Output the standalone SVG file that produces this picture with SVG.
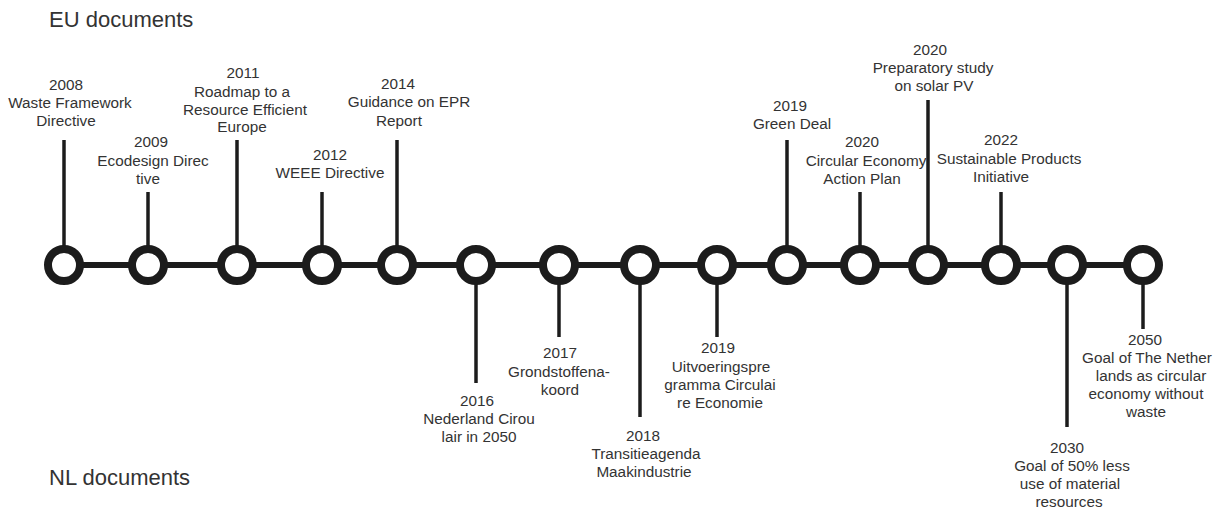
<svg xmlns="http://www.w3.org/2000/svg" width="1223" height="508" viewBox="0 0 1223 508">
<style>
.t{font-family:"Liberation Sans",Arial,sans-serif;font-size:15.3px;fill:#333;text-anchor:middle}
.h{font-family:"Liberation Sans",Arial,sans-serif;font-size:22px;fill:#333}
.stem{stroke:#1c1c1c;stroke-width:3.5}
.axis{stroke:#1c1c1c;stroke-width:6}
.node{fill:#fff;stroke:#1c1c1c;stroke-width:8}
</style>
<rect width="1223" height="508" fill="#fff"/>
<text class="h" x="49" y="27">EU documents</text>
<text class="h" x="49" y="485">NL documents</text>
<g id="connectors">
<line class="axis" x1="64" y1="265" x2="1143" y2="265"/>
<line class="stem" x1="64" y1="140" x2="64" y2="265"/>
<line class="stem" x1="148" y1="192" x2="148" y2="265"/>
<line class="stem" x1="237" y1="140" x2="237" y2="265"/>
<line class="stem" x1="322" y1="192" x2="322" y2="265"/>
<line class="stem" x1="397" y1="140" x2="397" y2="265"/>
<line class="stem" x1="476" y1="265" x2="476" y2="383"/>
<line class="stem" x1="559" y1="265" x2="559" y2="337"/>
<line class="stem" x1="640" y1="265" x2="640" y2="417"/>
<line class="stem" x1="717" y1="265" x2="717" y2="337"/>
<line class="stem" x1="787" y1="140" x2="787" y2="265"/>
<line class="stem" x1="860" y1="192" x2="860" y2="265"/>
<line class="stem" x1="928" y1="100" x2="928" y2="265"/>
<line class="stem" x1="1001" y1="192" x2="1001" y2="265"/>
<line class="stem" x1="1067" y1="265" x2="1067" y2="427"/>
<line class="stem" x1="1143" y1="265" x2="1143" y2="329"/>
</g>
<g id="n2008"><circle class="node" cx="64" cy="265" r="16"/>
<text class="t" x="66" y="90">2008</text><text class="t" x="70" y="108">Waste Framework</text><text class="t" x="66" y="126">Directive</text></g>
<g id="n2009"><circle class="node" cx="148" cy="265" r="16"/>
<text class="t" x="151" y="147">2009</text><text class="t" x="153" y="166">Ecodesign Direc</text><text class="t" x="148" y="184">tive</text></g>
<g id="n2011"><circle class="node" cx="237" cy="265" r="16"/>
<text class="t" x="243" y="78">2011</text><text class="t" x="242" y="97">Roadmap to a</text><text class="t" x="245" y="115">Resource Efficient</text><text class="t" x="242" y="132">Europe</text></g>
<g id="n2012"><circle class="node" cx="322" cy="265" r="16"/>
<text class="t" x="330" y="160">2012</text><text class="t" x="330" y="178">WEEE Directive</text></g>
<g id="n2014"><circle class="node" cx="397" cy="265" r="16"/>
<text class="t" x="398" y="89">2014</text><text class="t" x="409" y="107">Guidance on EPR</text><text class="t" x="399" y="126">Report</text></g>
<g id="n2016"><circle class="node" cx="476" cy="265" r="16"/>
<text class="t" x="477" y="406">2016</text><text class="t" x="479" y="424">Nederland Cirou</text><text class="t" x="479" y="442">lair in 2050</text></g>
<g id="n2017"><circle class="node" cx="559" cy="265" r="16"/>
<text class="t" x="560" y="358">2017</text><text class="t" x="559" y="377">Grondstoffena-</text><text class="t" x="560" y="395">koord</text></g>
<g id="n2018"><circle class="node" cx="640" cy="265" r="16"/>
<text class="t" x="643" y="441">2018</text><text class="t" x="646" y="459">Transitieagenda</text><text class="t" x="644" y="477">Maakindustrie</text></g>
<g id="n2019u"><circle class="node" cx="717" cy="265" r="16"/>
<text class="t" x="718" y="353">2019</text><text class="t" x="721" y="372">Uitvoeringspre</text><text class="t" x="720" y="390">gramma Circulai</text><text class="t" x="720" y="408">re Economie</text></g>
<g id="n2019g"><circle class="node" cx="787" cy="265" r="16"/>
<text class="t" x="790" y="111">2019</text><text class="t" x="792" y="129">Green Deal</text></g>
<g id="n2020c"><circle class="node" cx="860" cy="265" r="16"/>
<text class="t" x="862" y="147">2020</text><text class="t" x="866" y="166">Circular Economy</text><text class="t" x="862" y="184">Action Plan</text></g>
<g id="n2020p"><circle class="node" cx="928" cy="265" r="16"/>
<text class="t" x="930" y="55">2020</text><text class="t" x="933" y="73">Preparatory study</text><text class="t" x="934" y="91">on solar PV</text></g>
<g id="n2022"><circle class="node" cx="1001" cy="265" r="16"/>
<text class="t" x="1001" y="145">2022</text><text class="t" x="1009" y="164">Sustainable Products</text><text class="t" x="1001" y="182">Initiative</text></g>
<g id="n2030"><circle class="node" cx="1067" cy="265" r="16"/>
<text class="t" x="1067" y="453">2030</text><text class="t" x="1072" y="471">Goal of 50% less</text><text class="t" x="1070" y="489">use of material</text><text class="t" x="1069" y="507">resources</text></g>
<g id="n2050"><circle class="node" cx="1143" cy="265" r="16"/>
<text class="t" x="1145" y="345">2050</text><text class="t" x="1147" y="363">Goal of The Nether</text><text class="t" x="1151" y="381">lands as circular</text><text class="t" x="1146" y="399">economy without</text><text class="t" x="1146" y="417">waste</text></g>
</svg>
